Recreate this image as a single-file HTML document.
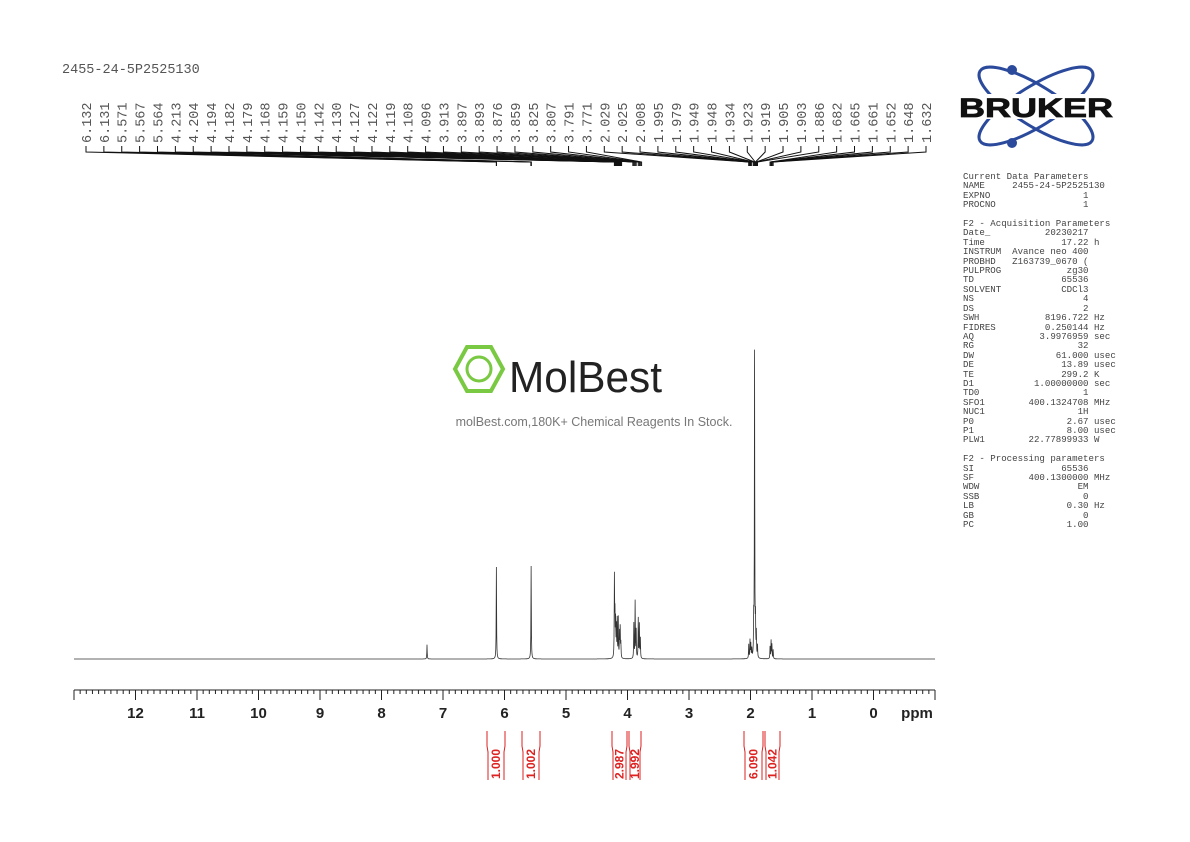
<!DOCTYPE html>
<html><head><meta charset="utf-8"><style>
body{margin:0;background:#fff;width:1190px;height:842px;overflow:hidden;position:relative;font-family:"Liberation Sans",sans-serif}
pre{position:absolute;left:963px;top:172px;margin:0;font:9.1px/9.4px "Liberation Mono",monospace;color:#444}
</style></head><body>
<svg id="s" width="1190" height="842" style="position:absolute;left:0;top:0" xmlns="http://www.w3.org/2000/svg">
<text x="62" y="73" font-family="Liberation Mono,monospace" font-size="13.5" fill="#555">2455-24-5P2525130</text>
<g id="lbl" font-family="Liberation Mono,monospace" font-size="13.5" fill="#555"></g>
<g id="lines" stroke="#111" stroke-width="1" fill="none"></g>
<path id="spec" stroke="#333" stroke-width="0.8" fill="none"/>
<line x1="74" y1="690" x2="935" y2="690" stroke="#222"/>
<g id="ticks" stroke="#222"></g>
<g id="axl" font-family="Liberation Sans,sans-serif" font-weight="bold" font-size="15" fill="#222" text-anchor="middle"></g>
<text x="917" y="718" font-family="Liberation Sans,sans-serif" font-weight="bold" font-size="15" fill="#222" text-anchor="middle">ppm</text>
<g id="integ" stroke="#d22" fill="none" stroke-width="1"></g>
<g id="intl" font-family="Liberation Sans,sans-serif" font-weight="bold" font-size="12" fill="#d22"></g>
<g stroke="#7ac943" fill="none" stroke-width="4">
<polygon points="467,347 491,347 503,369 491,391 467,391 455,369"/>
<circle cx="479" cy="369" r="12" stroke-width="3"/>
</g>
<text x="509" y="392" font-family="Liberation Sans,sans-serif" font-size="44" fill="#222" textLength="153" lengthAdjust="spacingAndGlyphs">MolBest</text>
<text x="594" y="426" font-family="Liberation Sans,sans-serif" font-size="12.5" fill="#777" text-anchor="middle">molBest.com,180K+ Chemical Reagents In Stock.</text>
<g stroke="#2b4a9c" stroke-width="3" fill="none">
<ellipse cx="1036" cy="106" rx="66" ry="20" transform="rotate(32 1036 106)"/>
<ellipse cx="1036" cy="106" rx="66" ry="20" transform="rotate(-32 1036 106)"/>
</g>
<circle cx="1012" cy="70" r="5" fill="#2b4a9c"/><circle cx="1012" cy="143" r="5" fill="#2b4a9c"/>
<rect x="958" y="94" width="157" height="25" fill="#fff"/>
<text x="1036" y="117" font-family="Liberation Sans,sans-serif" font-weight="bold" font-size="27" fill="#111" text-anchor="middle" textLength="154" lengthAdjust="spacingAndGlyphs" stroke="#111" stroke-width="0.8">BRUKER</text>
</svg>
<pre>Current Data Parameters
NAME     2455-24-5P2525130
EXPNO                 1
PROCNO                1

F2 - Acquisition Parameters
Date_          20230217
Time              17.22 h
INSTRUM  Avance neo 400
PROBHD   Z163739_0670 (
PULPROG            zg30
TD                65536
SOLVENT           CDCl3
NS                    4
DS                    2
SWH            8196.722 Hz
FIDRES         0.250144 Hz
AQ            3.9976959 sec
RG                   32
DW               61.000 usec
DE                13.89 usec
TE                299.2 K
D1           1.00000000 sec
TD0                   1
SFO1        400.1324708 MHz
NUC1                 1H
P0                 2.67 usec
P1                 8.00 usec
PLW1        22.77899933 W

F2 - Processing parameters
SI                65536
SF          400.1300000 MHz
WDW                  EM
SSB                   0
LB                 0.30 Hz
GB                    0
PC                 1.00</pre>
<script>
const NS="http://www.w3.org/2000/svg";
const X=p=>873.5-61.5*p;
function el(t,a,p,txt){const e=document.createElementNS(NS,t);for(const k in a)e.setAttribute(k,a[k]);if(txt!=null)e.textContent=txt;p.appendChild(e);return e;}
const labels=["6.132","6.131","5.571","5.567","5.564","4.213","4.204","4.194","4.182","4.179","4.168","4.159","4.150","4.142","4.130","4.127","4.122","4.119","4.108","4.096","3.913","3.897","3.893","3.876","3.859","3.825","3.807","3.791","3.771","2.029","2.025","2.008","1.995","1.979","1.949","1.948","1.934","1.923","1.919","1.905","1.903","1.886","1.682","1.665","1.661","1.652","1.648","1.632"];
const lg=document.getElementById('lbl'),ln=document.getElementById('lines');
const n=labels.length,x0=86,x1=926;
labels.forEach((l,i)=>{const x=x0+(x1-x0)*i/(n-1);
el('text',{x:0,y:0,transform:`translate(${x+5},143) rotate(-90)`},lg,l);
const px=X(parseFloat(l));
el('path',{d:`M${x},146 V152 L${px},162 V166`},ln);});
const peaks=[[7.26,14],[6.132,92],[5.567,93],[4.213,80],[4.204,40],[4.194,35],[4.182,30],[4.168,38],[4.150,40],[4.130,25],[4.119,30],[4.108,15],[3.897,35],[3.876,57],[3.859,28],[3.825,40],[3.807,34],[3.791,20],[2.029,14],[2.008,18],[1.995,14],[1.979,9],[1.948,35],[1.934,305],[1.919,35],[1.905,24],[1.886,12],[1.682,12],[1.665,18],[1.652,14],[1.632,9]];
const w=0.0035;
let xs=[];for(let x=74;x<=935;x+=0.25)xs.push(x);
peaks.forEach(([c])=>xs.push(X(c)));xs.sort((a,b)=>a-b);
let d="";
for(const x of xs){const p=(873.5-x)/61.5;let y=0;for(const [c,h] of peaks){const t=(p-c)/w;y+=h/(1+t*t);}d+=(d?"L":"M")+x.toFixed(2)+","+(659-y).toFixed(1);}
document.getElementById('spec').setAttribute('d',d);
const tg=document.getElementById('ticks'),ag=document.getElementById('axl');
for(let i=-10;i<=130;i++){const p=i/10,x=X(p);if(x<74||x>935.5)continue;const big=i%10==0;el('line',{x1:x,y1:690,x2:x,y2:big?700:694},tg);if(big&&i>=0&&i<=120)el('text',{x:x,y:718},ag,String(i/10));}
el('line',{x1:74,y1:690,x2:74,y2:700},tg);el('line',{x1:935,y1:690,x2:935,y2:700},tg);
const ig=document.getElementById('integ'),il=document.getElementById('intl');
const ints=[[487,505,"1.000"],[522,540,"1.002"],[612,627,"2.987"],[629,641,"1.992"],[744,763,"6.090"],[765,780,"1.042"]];
ints.forEach(([a,b,t])=>{el('path',{d:`M${a},731 V746 L${a+1},752 V780 M${b},731 V746 L${b-1},752 V780`},ig);
el('text',{x:0,y:0,transform:`translate(${(a+b)/2+4},779) rotate(-90)`},il,t);});
</script>
</body></html>
